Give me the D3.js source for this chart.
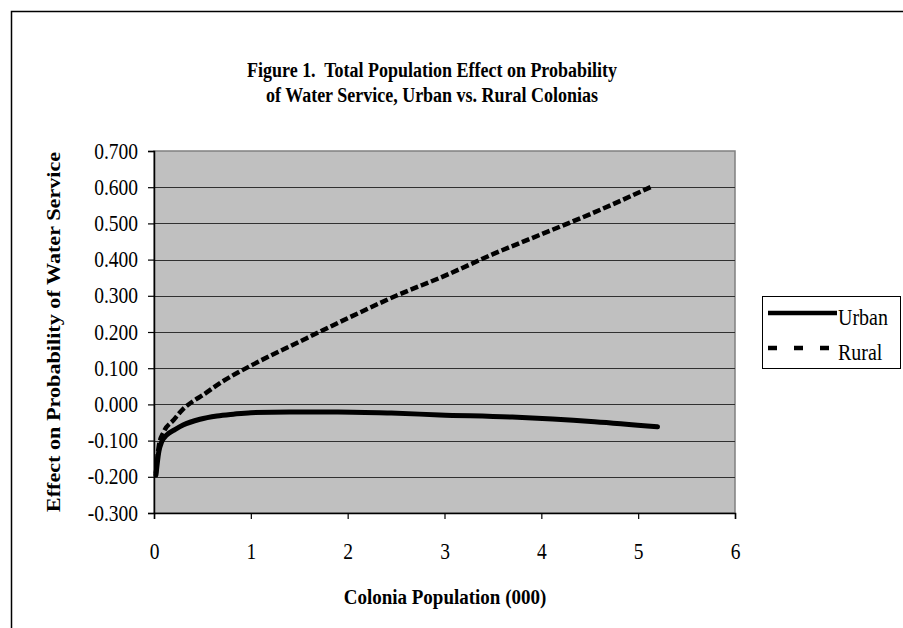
<!DOCTYPE html>
<html>
<head>
<meta charset="utf-8">
<script src="https://cdn.jsdelivr.net/npm/d3@7"></script>
<style>
  body { margin: 0; background: #fff; }
  svg text { font-family: "Liberation Serif", "Times New Roman", serif; fill: #000; }
</style>
</head>
<body>
<div class="canvas"></div>
<script>
// values (population in thousands)
const urbanX = [0.02, 0.05, 0.08, 0.13, 0.22, 0.30, 0.475, 0.65, 0.82, 1.0, 1.4, 1.9, 2.45, 2.95, 3.7, 4.55, 5.2]
const urbanY = [-0.195, -0.13, -0.103, -0.085, -0.069, -0.057, -0.041, -0.032, -0.027, -0.023, -0.021, -0.021, -0.024, -0.029, -0.035, -0.048, -0.062]
const ruralX = [0.02, 0.05, 0.1, 0.2, 0.3, 0.4, 0.5, 0.7, 1.0, 1.5, 2.0, 2.5, 3.0, 3.5, 4.0, 4.5, 5.15]
const ruralY = [-0.19, -0.115, -0.076, -0.044, -0.013, 0.008, 0.025, 0.062, 0.107, 0.173, 0.238, 0.30, 0.355, 0.415, 0.47, 0.525, 0.603]
const xTicks = [0, 1, 2, 3, 4, 5, 6]
const yTicks = [-0.3, -0.2, -0.1, 0, 0.1, 0.2, 0.3, 0.4, 0.5, 0.6, 0.7]
const seriesNames = ['Urban', 'Rural']

const dims = { width: 903, height: 628 }
const plot = { left: 154, right: 735, top: 151, bottom: 513 }
const stretch = 1.15   // the original text is a bit taller than it is wide

const svg = d3.select('.canvas')
    .append('svg')
    .attr('width', dims.width)
    .attr('height', dims.height)

// chart frame (runs off the right and bottom edges)
svg.append('path')
    .attr('d', `M11.5,${dims.height + 5}V11.5H${dims.width + 5}`)
    .attr('fill', 'none')
    .attr('stroke', '#000')
    .attr('stroke-width', 1.5)

const x = d3.scaleLinear().domain([0, 6]).range([plot.left, plot.right])
const y = d3.scaleLinear().domain([-0.3, 0.7]).range([plot.bottom, plot.top])

// plot area
svg.append('rect')
    .attr('x', plot.left).attr('y', plot.top)
    .attr('width', plot.right - plot.left)
    .attr('height', plot.bottom - plot.top)
    .attr('fill', '#c0c0c0')
    .attr('stroke', '#808080')
    .attr('stroke-width', 1.5)

// gridlines
svg.append('g')
    .selectAll('line')
    .data(yTicks.filter(d => d > -0.3 && d < 0.7))
    .enter().append('line')
    .attr('x1', plot.left).attr('x2', plot.right)
    .attr('y1', d => Math.round(y(d)) + 0.5)
    .attr('y2', d => Math.round(y(d)) + 0.5)
    .attr('stroke', '#303030')
    .attr('stroke-width', 1.2)

const yAxis = svg.append('g')
    .attr('transform', `translate(${plot.left},0)`)
    .call(d3.axisLeft(y).tickValues(yTicks).tickSize(6).tickPadding(10)
        .tickFormat(d => d.toFixed(3)))
yAxis.selectAll('text')
    .attr('font-size', 19.5)
    .attr('transform', `scale(1,${stretch})`)

const xAxis = svg.append('g')
    .attr('transform', `translate(0,${plot.bottom})`)
    .call(d3.axisBottom(x).tickValues(xTicks).tickSize(6)
        .tickFormat(d3.format('d')))
xAxis.selectAll('text')
    .attr('font-size', 19.5)
    .attr('y', 46 / stretch)
    .attr('dy', 0)
    .attr('transform', `scale(1,${stretch})`)

svg.selectAll('.domain').attr('stroke', '#000').attr('stroke-width', 1.5)
svg.selectAll('.tick line').attr('stroke', '#000').attr('stroke-width', 1.2)

// series
const line = d3.line()
    .x(d => x(d[0]))
    .y(d => y(d[1]))
    .curve(d3.curveMonotoneX)

const urban = urbanX.map((v, i) => [v, urbanY[i]])
const rural = ruralX.map((v, i) => [v, ruralY[i]])

svg.append('path')
    .datum(rural)
    .attr('d', line)
    .attr('fill', 'none')
    .attr('stroke', '#000')
    .attr('stroke-width', 4.5)
    .attr('stroke-dasharray', '8,3')

svg.append('path')
    .datum(urban)
    .attr('d', line)
    .attr('fill', 'none')
    .attr('stroke', '#000')
    .attr('stroke-width', 5)
    .attr('stroke-linecap', 'round')

// titles
const label = (tx, ty, size, txt, rot) => {
    const g = svg.append('g')
        .attr('transform', `translate(${tx},${ty}) scale(1,${stretch})`)
    g.append('text')
        .attr('text-anchor', 'middle')
        .attr('font-size', size)
        .attr('font-weight', 'bold')
        .attr('transform', rot ? 'rotate(-90)' : null)
        .text(txt)
}
label(432, 77, 18, 'Figure 1.\u00a0 Total Population Effect on Probability')
label(432, 102, 18, 'of Water Service, Urban vs. Rural Colonias')
label(445, 604, 19, 'Colonia Population (000)')
label(60, (plot.top + plot.bottom) / 2, 19.3, 'Effect on Probability of Water Service', true)

// legend
const legendGroup = svg.append('g')
    .attr('transform', 'translate(762,296)')

legendGroup.append('rect')
    .attr('x', 0.5).attr('y', 0.5)
    .attr('width', 138).attr('height', 72)
    .attr('fill', '#fff')
    .attr('stroke', '#000')
    .attr('stroke-width', 1)

const items = legendGroup.selectAll('g.item')
    .data(seriesNames)
    .enter().append('g')
    .attr('class', 'item')
    .attr('transform', (d, i) => `translate(0,${17 + i * 35})`)

items.append('line')
    .attr('x1', 6).attr('x2', 75)
    .attr('stroke', '#000')
    .attr('stroke-width', 4.5)
    .attr('stroke-dasharray', d => d === 'Rural' ? '9,17' : null)

items.append('text')
    .attr('transform', `translate(76,12) scale(1,${stretch})`)
    .attr('font-size', 20)
    .text(d => d)
</script>
</body>
</html>
